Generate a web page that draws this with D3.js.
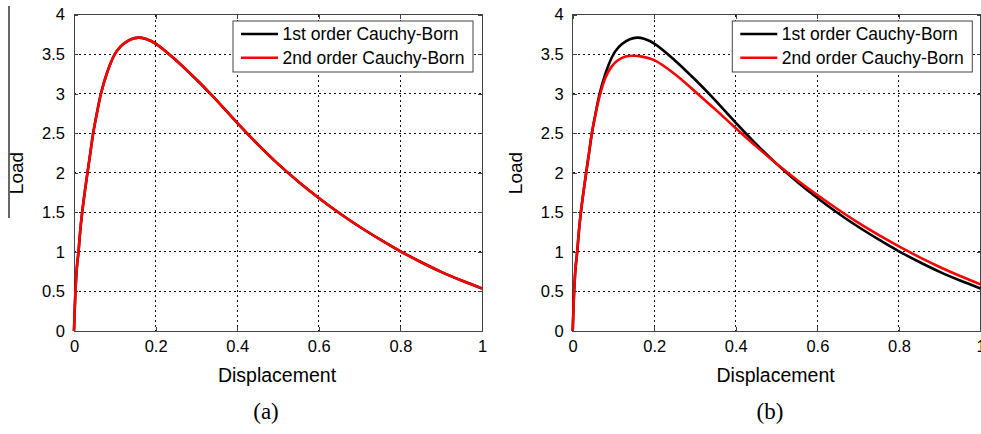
<!DOCTYPE html>
<html>
<head>
<meta charset="utf-8">
<script src="https://cdn.jsdelivr.net/npm/d3@7"></script>
<style>
  body { margin: 0; background: #fff; }
  svg { display: block; font-family: "Liberation Sans", Arial, sans-serif; }
</style>
</head>
<body>
<div id="chart"></div>
<script>
// displacement samples and load values
const dispFirst = [0, 0.002, 0.004, 0.007, 0.011, 0.015, 0.02, 0.027, 0.033, 0.04, 0.047, 0.056, 0.066, 0.08, 0.095, 0.105, 0.12, 0.14, 0.158, 0.175, 0.2, 0.25, 0.3, 0.341, 0.4, 0.45, 0.5, 0.55, 0.6, 0.65, 0.7, 0.75, 0.8, 0.85, 0.9, 0.95, 1.0];
const loadFirst = [0, 0.3, 0.55, 0.8, 1.0, 1.25, 1.5, 1.78, 2.0, 2.25, 2.5, 2.75, 3.0, 3.25, 3.45, 3.54, 3.625, 3.69, 3.71, 3.695, 3.635, 3.425, 3.18, 2.963, 2.633, 2.363, 2.113, 1.888, 1.683, 1.493, 1.318, 1.158, 1.008, 0.873, 0.748, 0.638, 0.538];

const dispSecond = [0, 0.002, 0.004, 0.007, 0.011, 0.015, 0.02, 0.027, 0.033, 0.04, 0.047, 0.056, 0.066, 0.08, 0.095, 0.11, 0.13, 0.148, 0.17, 0.2, 0.25, 0.3, 0.35, 0.4, 0.45, 0.5, 0.55, 0.6, 0.65, 0.7, 0.75, 0.8, 0.85, 0.9, 0.95, 1.0];
const loadSecond = [0, 0.3, 0.55, 0.8, 1.0, 1.25, 1.5, 1.78, 2.0, 2.25, 2.5, 2.74, 2.97, 3.2, 3.34, 3.42, 3.47, 3.48, 3.47, 3.425, 3.25, 3.03, 2.8, 2.565, 2.335, 2.115, 1.91, 1.72, 1.54, 1.37, 1.215, 1.07, 0.935, 0.81, 0.695, 0.59];

const xTicks = [0, 0.2, 0.4, 0.6, 0.8, 1];
const yTicks = [0, 0.5, 1, 1.5, 2, 2.5, 3, 3.5, 4];
const legendLabels = ["1st order Cauchy-Born", "2nd order Cauchy-Born"];
const seriesColors = ["#000000", "#ff0000"];

// in (a) both models give the same curve, so the red covers the black
const panels = [
  { tag: "(a)", x0: 74, x1: 482, legX: 233, capX: 266,
    series: [{ d: dispFirst, v: loadFirst }, { d: dispFirst, v: loadFirst }] },
  { tag: "(b)", x0: 572.7, x1: 980.5, legX: 732.3, capX: 770,
    series: [{ d: dispFirst, v: loadFirst }, { d: dispSecond, v: loadSecond }] }
];

const width = 981, height = 434;
const plotTop = 14.7, plotBottom = 331;

const svg = d3.select("#chart").append("svg").attr("width", width).attr("height", height);

// stray rule left of the first y label
svg.append("line").attr("x1", 9).attr("x2", 9).attr("y1", 6).attr("y2", 218)
  .attr("stroke", "#000").attr("stroke-width", 1.2);

panels.forEach(p => {
  const x = d3.scaleLinear().domain([0, 1]).range([p.x0, p.x1]);
  const y = d3.scaleLinear().domain([0, 4]).range([plotBottom, plotTop]);
  const g = svg.append("g");

  // grid
  g.append("g").selectAll("line").data(xTicks.slice(1, -1)).join("line")
    .attr("x1", d => x(d)).attr("x2", d => x(d)).attr("y1", plotTop).attr("y2", plotBottom)
    .attr("stroke", "#111").attr("stroke-width", 1).attr("stroke-dasharray", "2,3")
    .attr("shape-rendering", "crispEdges");
  g.append("g").selectAll("line").data(yTicks.slice(1, -1)).join("line")
    .attr("x1", p.x0).attr("x2", p.x1).attr("y1", d => y(d)).attr("y2", d => y(d))
    .attr("stroke", "#111").attr("stroke-width", 1).attr("stroke-dasharray", "2,3")
    .attr("shape-rendering", "crispEdges");

  // axes (inward ticks, matlab style)
  const fmt = d => String(d);
  const ax = g.append("g").attr("transform", "translate(0," + plotBottom + ")")
    .call(d3.axisBottom(x).tickValues(xTicks).tickSize(-4).tickPadding(6).tickFormat(fmt));
  const ay = g.append("g").attr("transform", "translate(" + p.x0 + ",0)")
    .call(d3.axisLeft(y).tickValues(yTicks).tickSize(-4).tickPadding(9).tickFormat(fmt));
  g.append("g").attr("transform", "translate(0," + plotTop + ")")
    .call(d3.axisTop(x).tickValues(xTicks).tickSize(-4).tickFormat(""));
  g.append("g").attr("transform", "translate(" + p.x1 + ",0)")
    .call(d3.axisRight(y).tickValues(yTicks).tickSize(-4).tickFormat(""));
  g.selectAll(".domain").remove();
  g.selectAll(".tick line").attr("stroke", "#444").attr("shape-rendering", "crispEdges");
  ax.selectAll("text").attr("font-size", 16.5).attr("fill", "#000").attr("dy", "0.9em");
  ay.selectAll("text").attr("font-size", 16.5).attr("fill", "#000");

  g.append("rect").attr("x", p.x0).attr("y", plotTop).attr("width", p.x1 - p.x0).attr("height", plotBottom - plotTop)
    .attr("fill", "none").attr("stroke", "#444").attr("stroke-width", 1).attr("shape-rendering", "crispEdges");

  // curves
  const line = d3.line().x(d => x(d[0])).y(d => y(d[1])).curve(d3.curveCatmullRom.alpha(0.5));
  p.series.forEach((s, i) => {
    g.append("path").datum(d3.zip(s.d, s.v)).attr("d", line)
      .attr("fill", "none").attr("stroke", seriesColors[i]).attr("stroke-width", 2.6)
      .attr("stroke-linejoin", "round");
  });

  // legend
  const lg = g.append("g").attr("transform", "translate(" + p.legX + ",21)");
  lg.append("rect").attr("width", 240).attr("height", 51)
    .attr("fill", "#fff").attr("stroke", "#444").attr("stroke-width", 1);
  legendLabels.forEach((lab, i) => {
    const ly = 13 + i * 23.7;
    lg.append("line").attr("x1", 8).attr("x2", 45).attr("y1", ly).attr("y2", ly)
      .attr("stroke", seriesColors[i]).attr("stroke-width", 2.6);
    lg.append("text").attr("x", 49.5).attr("y", ly).attr("dy", "0.36em")
      .attr("font-size", 17.5).text(lab);
  });

  // axis labels
  g.append("text").attr("x", (p.x0 + p.x1) / 2 - 1).attr("y", 382)
    .attr("text-anchor", "middle").attr("font-size", 19.5).text("Displacement");
  g.append("text").attr("transform", "translate(" + (p.x0 - 51) + ",173) rotate(-90)")
    .attr("text-anchor", "middle").attr("font-size", 19).text("Load");

  g.append("text").attr("x", p.capX).attr("y", 419)
    .attr("text-anchor", "middle").attr("font-family", "'Liberation Serif', serif")
    .attr("font-size", 23).text(p.tag);
});
</script>
</body>
</html>
